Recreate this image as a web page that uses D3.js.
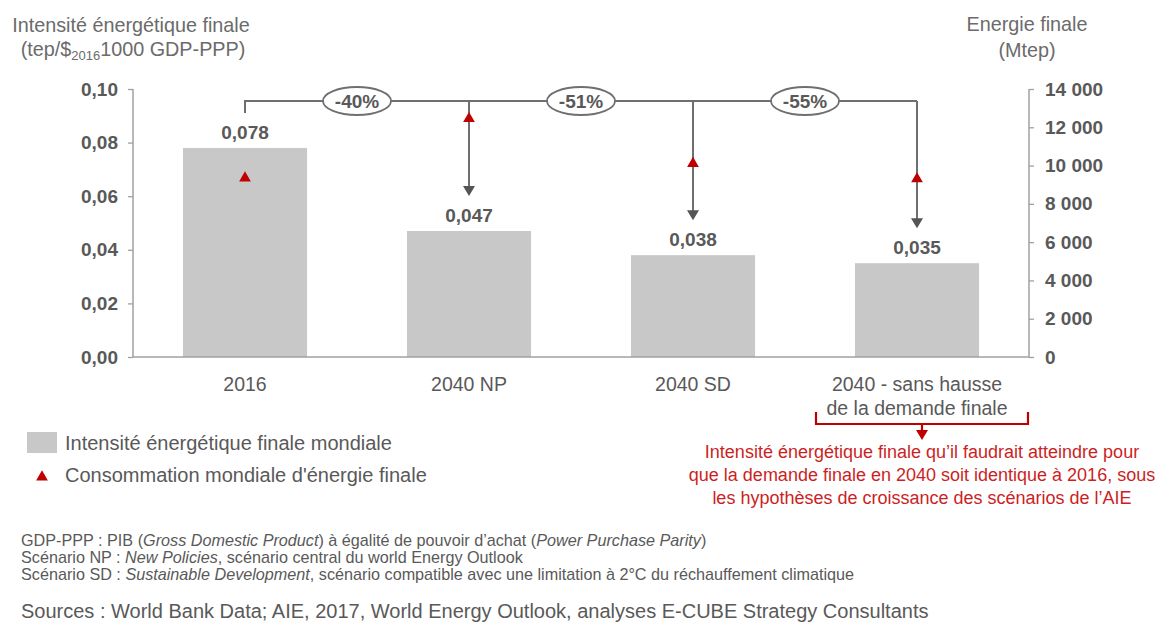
<!DOCTYPE html>
<html><head><meta charset="utf-8">
<script src="https://cdn.jsdelivr.net/npm/d3@7"></script>
<style>
body{margin:0;background:#fff;}
text{font-family:"Liberation Sans",Arial,sans-serif;}
</style></head>
<body><svg id="c" width="1162" height="624"></svg>
<script>
const categories = ["2016", "2040 NP", "2040 SD", "2040 - sans hausse de la demande finale"];
const categoryLines = [["2016"], ["2040 NP"], ["2040 SD"], ["2040 - sans hausse", "de la demande finale"]];
const intensity = [0.078, 0.047, 0.038, 0.035];
const intensityLabels = ["0,078", "0,047", "0,038", "0,035"];
const energy = [9350, 12450, 10100, 9300];
const reductions = ["-40%", "-51%", "-55%"];
const leftTicks = [0, 0.02, 0.04, 0.06, 0.08, 0.10];
const leftTickLabels = ["0,00", "0,02", "0,04", "0,06", "0,08", "0,10"];
const rightTicks = [0, 2000, 4000, 6000, 8000, 10000, 12000, 14000];
const rightTickLabels = ["0", "2 000", "4 000", "6 000", "8 000", "10 000", "12 000", "14 000"];
const legendLabels = ["Intensité énergétique finale mondiale", "Consommation mondiale d'énergie finale"];
const redNote = ["Intensité énergétique finale qu’il faudrait atteindre pour", "que la demande finale en 2040 soit identique à 2016, sous", "les hypothèses de croissance des scénarios de l’AIE"];

const svg = d3.select("#c");
const L = 133, R = 1029, T = 89, B = 357;
const grey = "#595959", barCol = "#c8c8c8", red = "#c00000", lineCol = "#6f6f6f";

const x = d3.scaleBand().domain(categories).range([L, R]).paddingInner(0.446).paddingOuter(0.223);
const yL = d3.scaleLinear().domain([0, 0.10]).range([B, T]);
const yR = d3.scaleLinear().domain([0, 14000]).range([B, T]);
const cx = c => x(c) + x.bandwidth() / 2;

// bars
svg.selectAll("rect.bar").data(categories).join("rect")
  .attr("x", d => x(d)).attr("width", x.bandwidth())
  .attr("y", (d, i) => yL(intensity[i])).attr("height", (d, i) => B - yL(intensity[i]))
  .attr("fill", barCol);

// axes
const axL = d3.axisLeft(yL).tickValues(leftTicks).tickFormat((d, i) => leftTickLabels[i]).tickSize(5).tickPadding(10);
const axR = d3.axisRight(yR).tickValues(rightTicks).tickFormat((d, i) => rightTickLabels[i]).tickSize(5).tickPadding(11);
function styleAxis(g) {
  g.selectAll(".tick line").attr("stroke", "#a0a0a0").attr("stroke-width", 1.3);
  g.selectAll(".tick text").attr("fill", grey).attr("font-size", 19).attr("font-weight", "bold")
    .attr("font-family", "Liberation Sans, Arial, sans-serif");
}
const gL = svg.append("g").attr("transform", `translate(${L},0)`).call(axL);
styleAxis(gL);
gL.select(".domain").remove();
const gR = svg.append("g").attr("transform", `translate(${R},0)`).call(axR);
styleAxis(gR);
gR.select(".domain").remove();
// axis lines + baseline
svg.append("line").attr("x1", L).attr("x2", L).attr("y1", T).attr("y2", B).attr("stroke", "#a0a0a0").attr("stroke-width", 1.5);
svg.append("line").attr("x1", R).attr("x2", R).attr("y1", T).attr("y2", B).attr("stroke", "#a0a0a0").attr("stroke-width", 1.5);
svg.append("line").attr("x1", L).attr("x2", R).attr("y1", B).attr("y2", B).attr("stroke", "#a0a0a0").attr("stroke-width", 1.5);

// bar value labels
svg.selectAll("text.val").data(categories).join("text")
  .attr("x", d => cx(d)).attr("y", (d, i) => yL(intensity[i]) - 9)
  .attr("text-anchor", "middle").attr("font-size", 19).attr("font-weight", "bold").attr("fill", grey)
  .text((d, i) => intensityLabels[i]);

// category labels
categories.forEach((c, i) => {
  const t = svg.append("text").attr("x", cx(c)).attr("y", 391).attr("text-anchor", "middle")
    .attr("font-size", 19.5).attr("fill", grey);
  categoryLines[i].forEach((ln, j) => t.append("tspan").attr("x", cx(c)).attr("dy", j ? 24 : 0).text(ln));
});

// bracket with reductions
const by = T + 12;
svg.append("path").attr("fill", "none").attr("stroke", lineCol).attr("stroke-width", 2)
  .attr("d", `M${cx(categories[0])},${by + 12}V${by}H${cx(categories[3])}`);
// arrows
categories.slice(1).forEach((c, k) => {
  const i = k + 1;
  const tip = yL(intensity[i]) - 35;
  svg.append("line").attr("x1", cx(c)).attr("x2", cx(c)).attr("y1", by).attr("y2", tip - 8)
    .attr("stroke", lineCol).attr("stroke-width", 2);
  svg.append("path").attr("fill", "#555")
    .attr("d", `M${cx(c) - 6},${tip - 10}L${cx(c) + 6},${tip - 10}L${cx(c)},${tip}Z`);
});
// ellipses
reductions.forEach((r, k) => {
  const mx = (cx(categories[k]) + cx(categories[k + 1])) / 2;
  svg.append("ellipse").attr("cx", mx).attr("cy", by).attr("rx", 34).attr("ry", 14)
    .attr("fill", "#fff").attr("stroke", lineCol).attr("stroke-width", 1.8);
  svg.append("text").attr("x", mx).attr("y", by + 7).attr("text-anchor", "middle")
    .attr("font-size", 19).attr("font-weight", "bold").attr("fill", grey).text(r);
});

// energy triangles
const tri = d3.symbol().type(d3.symbolTriangle).size(60);
svg.selectAll("path.en").data(categories).join("path")
  .attr("transform", (d, i) => `translate(${cx(d)},${yR(energy[i])})`)
  .attr("d", tri).attr("fill", red);

// titles
const tl = svg.append("text").attr("text-anchor", "middle").attr("font-size", 19.8).attr("fill", "#6b6b6b");
tl.append("tspan").attr("x", 131).attr("y", 32).text("Intensité énergétique finale");
const t2 = svg.append("text").attr("x", 133).attr("y", 56).attr("text-anchor", "middle").attr("font-size", 19.8).attr("fill", "#6b6b6b");
t2.append("tspan").text("(tep/$");
t2.append("tspan").attr("font-size", 13).attr("dy", 4).text("2016");
t2.append("tspan").attr("dy", -4).text("1000 GDP-PPP)");
const tr = svg.append("text").attr("text-anchor", "middle").attr("font-size", 19.8).attr("fill", "#6b6b6b");
tr.append("tspan").attr("x", 1027).attr("y", 31).text("Energie finale");
tr.append("tspan").attr("x", 1027).attr("y", 57).text("(Mtep)");

// legend
svg.append("rect").attr("x", 27).attr("y", 432).attr("width", 30).attr("height", 21).attr("fill", barCol);
svg.append("text").attr("x", 65).attr("y", 450).attr("font-size", 20).attr("fill", grey).text(legendLabels[0]);
svg.append("path").attr("transform", "translate(42,477)").attr("d", tri).attr("fill", red);
svg.append("text").attr("x", 65).attr("y", 482).attr("font-size", 20).attr("fill", grey).text(legendLabels[1]);

// red bracket note
const rx1 = 816, rx2 = 1028, rmid = cx(categories[3]) + 5;
svg.append("path").attr("fill", "none").attr("stroke", red).attr("stroke-width", 2.2)
  .attr("d", `M${rx1},${412}V${424}H${rx2}V${412}M${rmid},424V432`);
svg.append("path").attr("fill", red).attr("d", `M${rmid - 6},430L${rmid + 6},430L${rmid},440Z`);
const rn = svg.append("text").attr("text-anchor", "middle").attr("font-size", 18).attr("fill", "#cc1f1f");
redNote.forEach((ln, j) => rn.append("tspan").attr("x", 922).attr("y", 458 + j * 23).text(ln));

// footnotes
const fn = [
  [["GDP-PPP : PIB (", 0], ["Gross Domestic Product", 1], [") à égalité de pouvoir d’achat (", 0], ["Power Purchase Parity", 1], [")", 0]],
  [["Scénario NP : ", 0], ["New Policies", 1], [", scénario central du world Energy Outlook", 0]],
  [["Scénario SD : ", 0], ["Sustainable Development", 1], [", scénario compatible avec une limitation à 2°C du réchauffement climatique", 0]]
];
fn.forEach((parts, j) => {
  const t = svg.append("text").attr("x", 21).attr("y", 546 + j * 17).attr("font-size", 16.2).attr("fill", grey);
  parts.forEach(p => t.append("tspan").attr("font-style", p[1] ? "italic" : "normal").text(p[0]));
});
svg.append("text").attr("x", 21).attr("y", 618).attr("font-size", 20).attr("fill", grey)
  .text("Sources : World Bank Data; AIE, 2017, World Energy Outlook, analyses E-CUBE Strategy Consultants");
</script></body></html>
